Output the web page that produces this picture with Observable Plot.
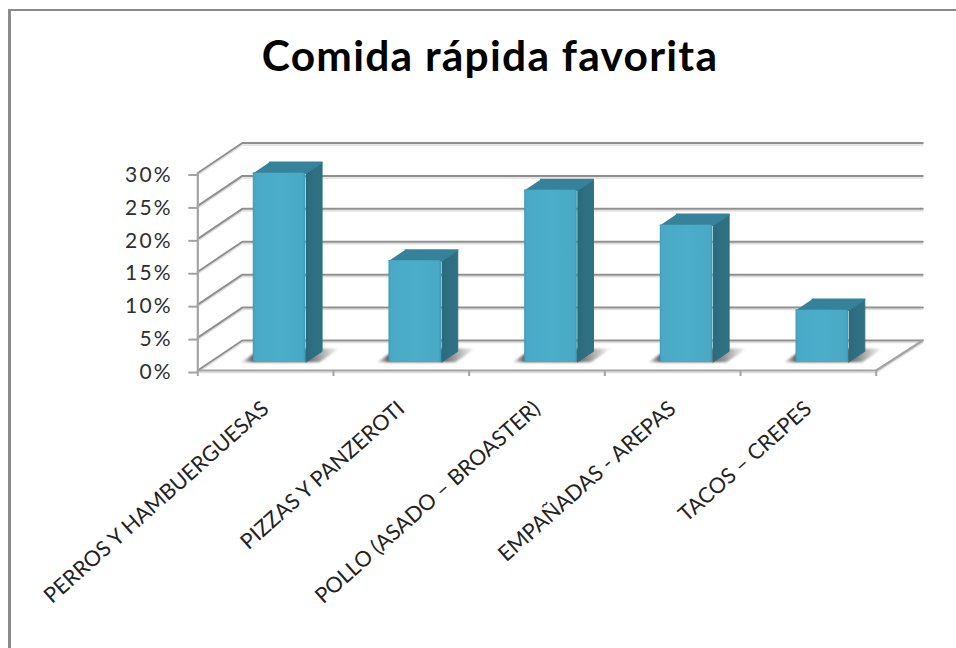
<!DOCTYPE html>
<html lang="es">
<head>
<meta charset="utf-8">
<title>Comida rápida favorita</title>
<script src="https://cdn.jsdelivr.net/npm/d3@7"></script>
<script src="https://cdn.jsdelivr.net/npm/@observablehq/plot@0.6"></script>
<style>
  html, body { margin: 0; padding: 0; background: #fff; overflow: hidden; }
  body { width: 956px; height: 648px; position: relative; }
  #frame { position: absolute; left: 8px; top: 9px; right: -4px; bottom: -4px;
           border-left: 3px solid #8a8a8a; border-top: 2.5px solid #8a8a8a; }
  h1 { position: relative; margin: 0; height: 100px; width: 956px; box-sizing: border-box;
       padding: 31px 0 0 24px; text-align: center; font: 700 42.5px/48px Lato, sans-serif; color: #000;
       letter-spacing: 1.25px; }
  #chart { position: relative; }
  #chart svg { display: block; }
  g[aria-label="y-axis tick label"] text { letter-spacing: 2.2px; }
</style>
</head>
<body>
<div id="frame"></div>
<h1>Comida rápida favorita</h1>
<div id="chart"></div>
<script>
// Survey results: share of respondents per fast-food type.
const categories = [
  "PERROS Y HAMBUERGUESAS",
  "PIZZAS Y PANZEROTI",
  "POLLO (ASADO – BROASTER)",
  "EMPAÑADAS - AREPAS",
  "TACOS – CREPES"
];
const shares = [28.7, 15.4, 26.1, 20.8, 7.9];
const yTicks = [0, 5, 10, 15, 20, 25, 30];

// Oblique projection of the 3-D box: how far the back wall sits from the front plane,
// in units of the x scale (categories) and y scale (percent).
const wallX = 0.328;
const wallY = 4.557;
const project = (x, y, d) => ({x: x + d * wallX, y: y + d * wallY});
// The back wall runs slightly past the projected corner on its right end.
const backWallEnd = 5.015;

// Column footprint within its category band.
const colWidth = 0.388;
const colShift = 0.012;
const colD0 = 0.277;
const colD1 = 0.64;
const shadowD1 = 0.733;

const rows = categories.map((name, i) => {
  const x0 = i + 0.5 + colShift - colWidth / 2, x1 = i + 0.5 + colShift + colWidth / 2;
  return {name, i, v: shares[i], x0, x1};
});

const polygon = (id, pts) => pts.map(p => ({id, ...p}));

const frontFaces = rows.map(r => ({
  x1: project(r.x0, 0, colD0).x, x2: project(r.x1, 0, colD0).x,
  y1: project(0, 0, colD0).y, y2: project(0, r.v, colD0).y
}));
const sideFaces = rows.flatMap(r => polygon(r.i, [
  project(r.x1, 0, colD0), project(r.x1, 0, colD1),
  project(r.x1, r.v, colD1), project(r.x1, r.v, colD0)
]));
const topFaces = rows.flatMap(r => polygon(r.i, [
  project(r.x0, r.v, colD0), project(r.x1, r.v, colD0),
  project(r.x1, r.v, colD1), project(r.x0, r.v, colD1)
]));
const shadows = rows.flatMap(r => polygon(r.i, [
  project(r.x0 - 0.09, 0, colD0), project(r.x1 + 0.1, 0, colD0),
  project(r.x1 + 0.1, 0, shadowD1), project(r.x0 - 0.09, 0, shadowD1)
]));

// Wall and floor rules.
const backRules = yTicks.flatMap(t => polygon(t, [project(0, t, 0), project(0, t, 1), project(backWallEnd, t, 1)]));
const floorEdge = polygon("floor", [project(0, 0, 0), project(5, 0, 0), project(backWallEnd, 0, 1)]);

// Blurs one mark's group after Plot has drawn it.
const blurred = px => (index, scales, values, dims, context, next) => {
  const g = next(index, scales, values, dims, context);
  g.style.filter = `blur(${px}px)`;
  return g;
};

// Gradients shared by the column faces.
const gradients = () => {
  const defs = d3.create("svg:defs");
  const grad = (id, stops) => {
    const g = defs.append("linearGradient").attr("id", id);
    for (const [o, c, a] of stops) g.append("stop").attr("offset", o).attr("stop-color", c).attr("stop-opacity", a ?? 1);
  };
  grad("face", [[0, "#3f9cb6"], [0.05, "#4aaac6"], [0.5, "#4badca"], [0.95, "#49a9c5"], [1, "#3d98b2"]]);
  grad("side", [[0, "#2a6a7d"], [0.5, "#2f6f82"], [1, "#2f7083"]]);
  grad("shade", [[0, "#444", 0.05], [0.12, "#444", 0.85], [0.65, "#444", 0.85], [1, "#444", 0]]);
  return defs.node();
};

const chart = Plot.plot({
  width: 956,
  height: 548,
  marginLeft: 197.3,
  marginRight: 80.3,
  marginTop: 72.5,
  marginBottom: 278,
  style: {background: "transparent", overflow: "visible"},
  x: {domain: [0, 5], axis: null},
  y: {domain: [0, 30], axis: null},
  marks: [
    gradients,
    // light edge under each rule, then the rule itself
    Plot.line(backRules, {x: "x", y: "y", z: "id", stroke: "#dedede", strokeWidth: 1.5, dy: 2}),
    Plot.line(backRules, {x: "x", y: "y", z: "id", stroke: "#8f8f8f", strokeWidth: 2}),
    Plot.line(floorEdge, {x: "x", y: "y", z: "id", stroke: "#dedede", strokeWidth: 1.5, dy: 2}),
    Plot.line(floorEdge, {x: "x", y: "y", z: "id", stroke: "#a3a3a3", strokeWidth: 2.2}),
    Plot.ruleX([0], {y1: 0, y2: 30, stroke: "#a3a3a3", strokeWidth: 2.2}),
    Plot.axisY({
      ticks: yTicks, tickFormat: d => `${d}%`, anchor: "left", tickSize: 9, tickPadding: 16,
      fontSize: 21, fontFamily: "Lato, sans-serif", fill: "#2e2e2e", stroke: "#a3a3a3", strokeWidth: 2, dy: 2
    }),
    Plot.axisX({
      ticks: d3.range(6), tickFormat: null, tickSize: 6, anchor: "bottom",
      stroke: "#a3a3a3", strokeWidth: 2, text: null, label: null
    }),
    // floor shadows, columns over them
    Plot.line(shadows, {x: "x", y: "y", z: "id", fill: "url(#shade)", stroke: null, render: blurred(1.2)}),
    Plot.line(sideFaces, {x: "x", y: "y", z: "id", fill: "url(#side)", stroke: "#2f7083", strokeWidth: 1, strokeLinejoin: "round"}),
    Plot.line(topFaces, {x: "x", y: "y", z: "id", fill: "#36829a", stroke: "#36829a", strokeWidth: 1.5, strokeLinejoin: "round"}),
    Plot.rect(frontFaces, {x1: "x1", x2: "x2", y1: "y1", y2: "y2", fill: "url(#face)", rx: 2}),
    // category names, rotated under their band
    Plot.text(rows, {
      x: d => d.i + 0.5, y: 0, text: "name", rotate: -41.6, textAnchor: "end",
      dx: 0, dy: 35, fontSize: 21.5, fontFamily: "Lato, sans-serif", fill: "#222"
    })
  ]
});
document.getElementById("chart").append(chart);
</script>
</body>
</html>
